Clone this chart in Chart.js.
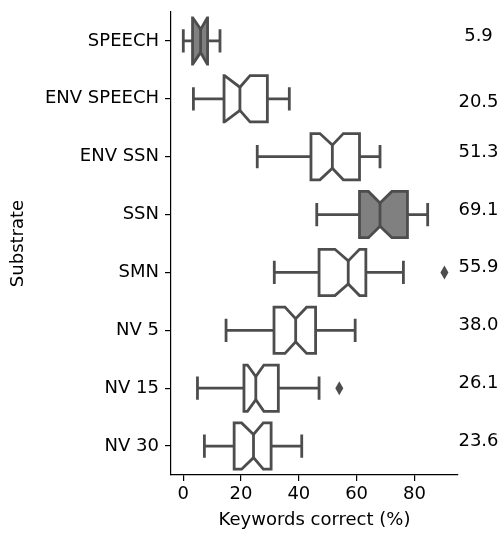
<!DOCTYPE html>
<html>
<head>
<meta charset="utf-8">
<script src="https://cdn.jsdelivr.net/npm/chart.js@4"></script>
<style>
  html, body { margin: 0; padding: 0; background: #fff; }
  #wrap { width: 502px; height: 533px; }
</style>
</head>
<body>
<div id="wrap"><canvas id="boxChart" width="502" height="533"></canvas></div>
<script>
// Data
const substrates = ['SPEECH', 'ENV SPEECH', 'ENV SSN', 'SSN', 'SMN', 'NV 5', 'NV 15', 'NV 30'];
const whiskerLow = [0.0, 3.5, 25.6, 46.2, 31.5, 14.8, 4.9, 7.3];
const q1 = [3.2, 14.1, 44.2, 61.0, 47.0, 31.4, 21.0, 17.6];
const notchLow = [3.3, 14.3, 47.3, 64.1, 52.5, 35.2, 22.2, 20.2];
const medians = [6.0, 19.6, 51.6, 68.1, 57.1, 38.9, 25.1, 24.3];
const notchHigh = [8.3, 23.1, 55.4, 72.2, 61.0, 42.7, 27.9, 27.7];
const q3 = [8.4, 29.1, 61.0, 77.6, 63.2, 45.8, 32.9, 30.4];
const whiskerHigh = [12.7, 36.7, 68.1, 84.6, 76.2, 59.5, 47.0, 41.0];
const outliers = [[], [], [], [], [90.4], [], [54.0], []];
const meanLabels = ['5.9', '20.5', '51.3', '69.1', '55.9', '38.0', '26.1', '23.6'];
const xTicks = [0, 20, 40, 60, 80];
const shaded = ['SPEECH', 'SSN'];

const LINE = 'rgb(77,77,77)';
const FILL = 'rgb(128,128,128)';
const FONT = { family: 'DejaVu Sans', size: 18 };

// Draw notched boxes, whiskers, outliers and mean labels
const boxPlugin = {
    id: 'notchedBoxes',
    afterDatasetsDraw(chart) {
        const ctx = chart.ctx;
        const x = chart.scales.x;
        const y = chart.scales.y;
        const band = y.getPixelForValue(1) - y.getPixelForValue(0);
        const half = band * 0.4;
        const inset = band * 0.2;
        const cap = band * 0.2;

        ctx.save();
        ctx.lineWidth = 2.8;
        ctx.strokeStyle = LINE;
        ctx.lineJoin = 'miter';

        substrates.forEach((name, i) => {
            const cy = y.getPixelForValue(i);
            const top = cy - half;
            const bot = cy + half;
            const px = v => x.getPixelForValue(v);

            // whiskers
            ctx.beginPath();
            ctx.moveTo(px(whiskerLow[i]), cy);
            ctx.lineTo(px(q1[i]), cy);
            ctx.moveTo(px(q3[i]), cy);
            ctx.lineTo(px(whiskerHigh[i]), cy);
            ctx.moveTo(px(whiskerLow[i]), cy - cap);
            ctx.lineTo(px(whiskerLow[i]), cy + cap);
            ctx.moveTo(px(whiskerHigh[i]), cy - cap);
            ctx.lineTo(px(whiskerHigh[i]), cy + cap);
            ctx.stroke();

            // notched box
            ctx.beginPath();
            ctx.moveTo(px(q1[i]), top);
            ctx.lineTo(px(notchLow[i]), top);
            ctx.lineTo(px(medians[i]), top + inset);
            ctx.lineTo(px(notchHigh[i]), top);
            ctx.lineTo(px(q3[i]), top);
            ctx.lineTo(px(q3[i]), bot);
            ctx.lineTo(px(notchHigh[i]), bot);
            ctx.lineTo(px(medians[i]), bot - inset);
            ctx.lineTo(px(notchLow[i]), bot);
            ctx.lineTo(px(q1[i]), bot);
            ctx.closePath();
            ctx.fillStyle = shaded.includes(name) ? FILL : '#ffffff';
            ctx.fill();
            ctx.stroke();

            // median
            ctx.beginPath();
            ctx.moveTo(px(medians[i]), top + inset);
            ctx.lineTo(px(medians[i]), bot - inset);
            ctx.stroke();

            // outliers (thin diamonds)
            ctx.fillStyle = LINE;
            outliers[i].forEach(v => {
                const ox = px(v);
                ctx.beginPath();
                ctx.moveTo(ox, cy - 7);
                ctx.lineTo(ox + 4, cy);
                ctx.lineTo(ox, cy + 7);
                ctx.lineTo(ox - 4, cy);
                ctx.closePath();
                ctx.fill();
            });

            // mean label at the right
            ctx.fillStyle = '#000';
            ctx.font = FONT.size + 'px "' + FONT.family + '"';
            ctx.textAlign = 'center';
            ctx.textBaseline = 'alphabetic';
            const shift = i === 1 ? 8 : 0;
            ctx.fillText(meanLabels[i], chart.chartArea.right + 20.5, cy + shift);
        });
        ctx.restore();
    }
};

new Chart(document.getElementById('boxChart'), {
    type: 'bar',
    data: {
        labels: substrates,
        datasets: [{
            data: substrates.map((s, i) => [q1[i], q3[i]]),
            backgroundColor: 'rgba(0,0,0,0)',
            borderWidth: 0
        }]
    },
    options: {
        indexAxis: 'y',
        responsive: false,
        animation: false,
        layout: { padding: { left: 0, right: 44, top: 12, bottom: 0 } },
        plugins: {
            legend: { display: false },
            tooltip: { enabled: false }
        },
        scales: {
            x: {
                type: 'linear',
                min: -4.26,
                max: 95.1,
                afterBuildTicks: scale => { scale.ticks = xTicks.map(v => ({ value: v })); },
                afterFit: scale => {
                    scale.height = 58;
                    scale.paddingLeft = 0;
                    scale.paddingRight = 0;
                },
                border: { color: '#000', width: 1.2 },
                grid: { drawOnChartArea: false, drawTicks: true, tickLength: 6, color: '#000', lineWidth: 1.2 },
                ticks: { color: '#000', font: FONT, padding: 3, maxRotation: 0 },
                title: { display: true, text: 'Keywords correct (%)', color: '#000', font: FONT, padding: { top: 0, bottom: 2 } }
            },
            y: {
                type: 'category',
                offset: true,
                afterFit: scale => {
                    scale.width = 171;
                    scale.paddingTop = 0;
                    scale.paddingBottom = 0;
                },
                border: { color: '#000', width: 1.2 },
                grid: { offset: false, drawOnChartArea: false, drawTicks: true, tickLength: 6, color: '#000', lineWidth: 1.2 },
                ticks: { color: '#000', font: FONT, padding: 6 },
                title: { display: true, text: 'Substrate', color: '#000', font: FONT, padding: { top: 8, bottom: 0 } }
            }
        }
    },
    plugins: [boxPlugin]
});
</script>
</body>
</html>
